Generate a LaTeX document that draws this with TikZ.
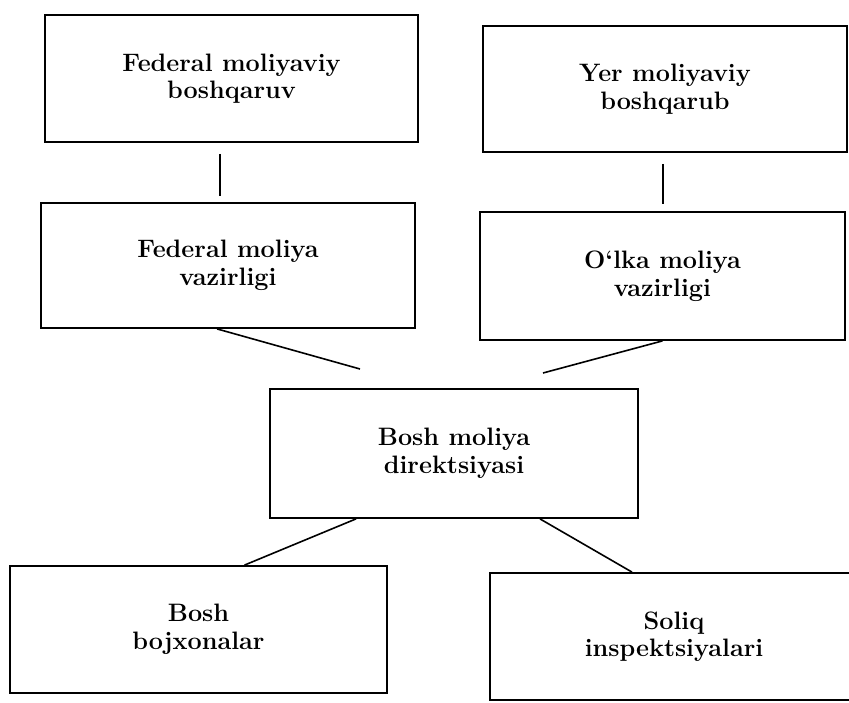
\documentclass[tikz,border=0pt]{standalone}
\begin{document}
\begin{tikzpicture}[x=1pt,y=-1pt,
  box/.style={draw, line width=1.8pt, inner sep=0pt, align=center,
    font=\fontsize{25.2}{27.5}\selectfont\bfseries},
  link/.style={line width=1.6pt}]
\useasboundingbox (0,0) rectangle (849,703);
\node[box, minimum width=373pt, minimum height=127pt] (b1) at (231.5,78.5) {Federal moliyaviy\\boshqaruv};
\node[box, minimum width=364pt, minimum height=126pt] (b2) at (665,89) {Yer moliyaviy\\boshqarub};
\node[box, minimum width=374pt, minimum height=125pt] (b3) at (228,265.5) {Federal moliya\\vazirligi};
\node[box, minimum width=365pt, minimum height=128pt] (b4) at (662.5,276) {O‘lka moliya\\vazirligi};
\node[box, minimum width=368pt, minimum height=129pt] (b5) at (454,453.5) {Bosh moliya\\direktsiyasi};
\node[box, minimum width=377pt, minimum height=127pt] (b6) at (198.5,629.5) {Bosh\\bojxonalar};
\node[box, minimum width=368pt, minimum height=127pt] (b7) at (674,636.5) {Soliq\\inspektsiyalari};
\coordinate (l3e) at (360,369);
\coordinate (l4e) at (543,373);
\draw[link, shorten <=11pt, shorten >=6pt] ([xshift=-11.5pt]b1.south) -- ([xshift=-8pt]b3.north);
\draw[link, shorten <=11pt, shorten >=7pt] ([xshift=-2pt]b2.south) -- ([xshift=0.5pt]b4.north);
\draw[link] ([xshift=-11pt]b3.south) -- (l3e);
\draw[link] (b4.south) -- (l4e);
\draw[link] ([xshift=-98pt]b5.south) -- ([xshift=46pt]b6.north);
\draw[link] ([xshift=86pt]b5.south) -- ([xshift=-42pt]b7.north);
\end{tikzpicture}
\end{document}
